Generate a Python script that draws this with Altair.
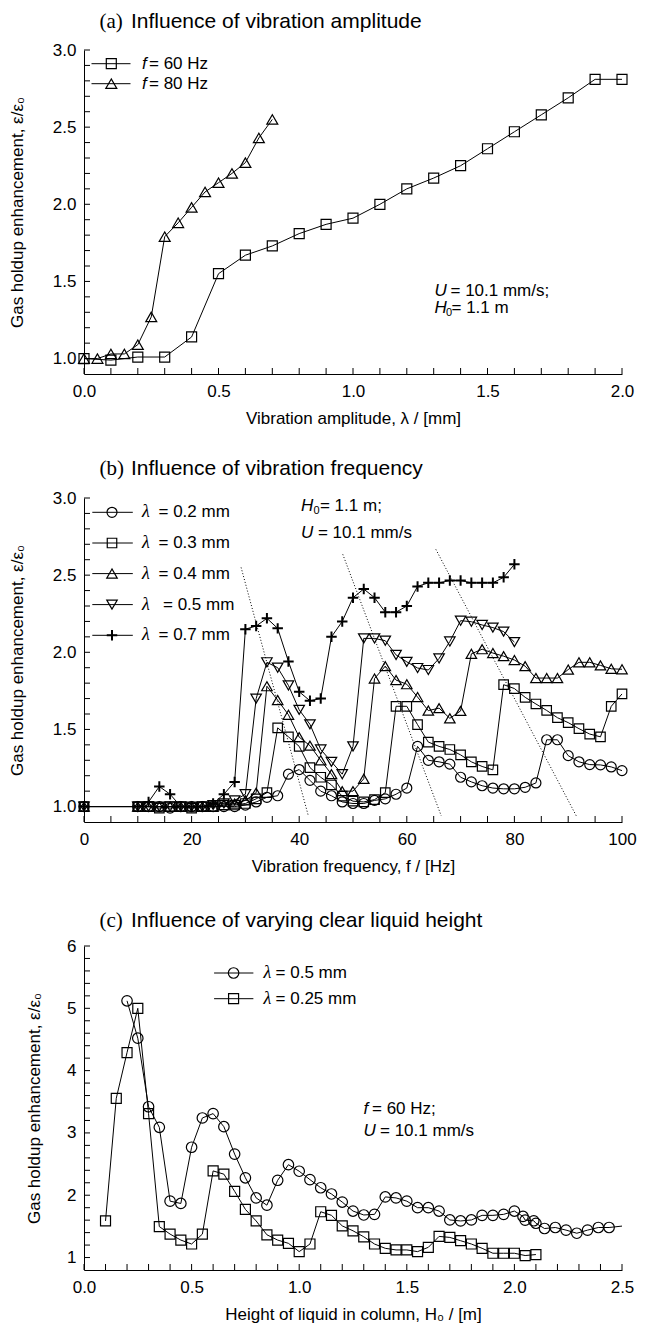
import altair as alt
import pandas as pd

FONT = "Liberation Sans"
SERIF = "Liberation Serif"
W, H = 538, 324
TXT = 17
PLUS = "M-1,0H1M0,-1V1"

# ---------------- panel (a): influence of vibration amplitude ----------------
a_amp_60 = [0.0, 0.1, 0.2, 0.3, 0.4, 0.5, 0.6, 0.7, 0.8, 0.9, 1.0, 1.1, 1.2, 1.3, 1.4,
            1.5, 1.6, 1.7, 1.8, 1.9, 2.0]
a_eps_60 = [1.00, 0.99, 1.01, 1.01, 1.14, 1.55, 1.67, 1.73, 1.81, 1.87, 1.91, 2.00, 2.10,
            2.17, 2.25, 2.36, 2.47, 2.58, 2.69, 2.81, 2.81]
a_amp_80 = [0.0, 0.05, 0.1, 0.15, 0.2, 0.25, 0.3, 0.35, 0.4, 0.45, 0.5, 0.55, 0.6, 0.65, 0.7]
a_eps_80 = [1.00, 1.00, 1.03, 1.03, 1.09, 1.27, 1.79, 1.88, 1.98, 2.08, 2.14, 2.20, 2.27,
            2.43, 2.55]
a_x_labels = [0.0, 0.5, 1.0, 1.5, 2.0]
a_y_labels = [1.0, 1.5, 2.0, 2.5, 3.0]
a_x_ticks = [0.0, 0.1, 0.2, 0.3, 0.4, 0.5, 0.6, 0.7, 0.8, 0.9, 1.0, 1.1, 1.2, 1.3, 1.4, 1.5,
             1.6, 1.7, 1.8, 1.9, 2.0]
a_y_ticks = [1.0, 1.1, 1.2, 1.3, 1.4, 1.5, 1.6, 1.7, 1.8, 1.9, 2.0, 2.1, 2.2, 2.3, 2.4, 2.5,
             2.6, 2.7, 2.8, 2.9, 3.0]

# ---------------- panel (b): influence of vibration frequency ----------------
b_freq_long = [0, 10, 12, 14, 16, 18, 20, 22, 24, 26, 28, 30, 32, 34, 36, 38, 40, 42, 44, 46,
               48, 50, 52, 54, 56, 58, 60, 62, 64, 66, 68, 70, 72, 74, 76, 78, 80, 82, 84, 86,
               88, 90, 92, 94, 96, 98, 100]
b_freq_short = [0, 10, 12, 14, 16, 18, 20, 22, 24, 26, 28, 30, 32, 34, 36, 38, 40, 42, 44, 46,
                48, 50, 52, 54, 56, 58, 60, 62, 64, 66, 68, 70, 72, 74, 76, 78, 80]
b_eps_02 = [1.00, 1.00, 1.00, 1.00, 0.99, 1.00, 1.00, 1.00, 1.00, 1.00, 1.00,
            1.01, 1.03, 1.06, 1.07, 1.21, 1.24, 1.17, 1.10, 1.07, 1.03, 1.02, 1.02, 1.04,
            1.05, 1.08, 1.12, 1.39, 1.30, 1.29, 1.275, 1.19, 1.16, 1.135, 1.12, 1.115,
            1.115, 1.125, 1.153, 1.433, 1.433, 1.33, 1.29, 1.272, 1.27, 1.257, 1.233]
b_eps_03 = [1.00, 1.00, 1.00, 0.99, 1.00, 1.00, 0.99, 1.00, 1.00, 1.01, 1.01,
            1.02, 1.05, 1.09, 1.51, 1.452, 1.39, 1.253, 1.19, 1.14, 1.068, 1.035, 1.03,
            1.045, 1.09, 1.65, 1.65, 1.531, 1.418, 1.39, 1.37, 1.335, 1.29, 1.26, 1.238,
            1.79, 1.765, 1.708, 1.665, 1.623, 1.576, 1.544, 1.505, 1.47, 1.452, 1.65, 1.73]
b_eps_04 = [1.00, 1.00, 1.00, 1.00, 1.00, 1.00, 1.00, 1.00, 1.00, 1.01, 1.02,
            1.04, 1.09, 1.78, 1.69, 1.595, 1.45, 1.395, 1.30, 1.21, 1.10, 1.10, 1.18, 1.83,
            1.91, 1.82, 1.793, 1.71, 1.622, 1.638, 1.572, 1.62, 1.99, 2.02, 1.995, 1.975,
            1.95, 1.91, 1.833, 1.833, 1.833, 1.888, 1.935, 1.935, 1.915, 1.893, 1.89]
b_eps_05 = [1.00, 1.00, 1.00, 1.00, 1.00, 1.00, 1.00, 1.00, 1.01, 1.02, 1.04,
            1.08, 1.70, 1.935, 1.90, 1.785, 1.627, 1.533, 1.37, 1.29, 1.21, 1.39, 2.09,
            2.09, 2.075, 1.983, 1.938, 1.898, 1.885, 1.96, 2.07, 2.205, 2.198, 2.177, 2.16,
            2.134, 2.066]
b_eps_07 = [1.00, 1.00, 1.03, 1.13, 1.08, 1.00, 1.00, 1.00, 1.02, 1.08, 1.16,
            2.15, 2.17, 2.22, 2.155, 1.94, 1.744, 1.686, 1.70, 2.10, 2.20, 2.354, 2.41,
            2.354, 2.26, 2.26, 2.30, 2.427, 2.45, 2.45, 2.465, 2.465, 2.45, 2.45, 2.45,
            2.486, 2.57]
b_guide_freq = [[29.2, 41.7], [48.1, 66.4], [65.4, 91.5]]
b_guide_eps = [[2.55, 0.94], [2.635, 0.94], [2.667, 0.94]]
b_x_labels = [0, 20, 40, 60, 80, 100]
b_y_labels = [1.0, 1.5, 2.0, 2.5, 3.0]
b_x_ticks = [0, 5, 10, 15, 20, 25, 30, 35, 40, 45, 50, 55, 60, 65, 70, 75, 80, 85, 90, 95, 100]
b_y_ticks = a_y_ticks

# ---------------- panel (c): influence of clear liquid height ----------------
c_h_05 = [0.2, 0.25, 0.3, 0.35, 0.4, 0.45, 0.5, 0.55, 0.6, 0.65, 0.7, 0.75, 0.8, 0.85, 0.9,
          0.95, 1.0, 1.05, 1.1, 1.15, 1.2, 1.25, 1.3, 1.35, 1.4, 1.45, 1.5, 1.55, 1.6, 1.65,
          1.7, 1.75, 1.8, 1.85, 1.9, 1.95, 2.0, 2.04, 2.05, 2.09, 2.1, 2.14, 2.19, 2.24, 2.29,
          2.34, 2.39, 2.44, 2.54]
c_eps_05 = [5.12, 4.52, 3.42, 3.09, 1.905, 1.868, 2.77, 3.24, 3.31, 3.10, 2.66, 2.28, 1.957,
            1.84, 2.24, 2.49, 2.385, 2.25, 2.12, 2.02, 1.89, 1.746, 1.683, 1.693, 1.973,
            1.957, 1.905, 1.80, 1.80, 1.746, 1.603, 1.587, 1.603, 1.677, 1.677, 1.693, 1.746,
            1.66, 1.60, 1.59, 1.55, 1.466, 1.482, 1.44, 1.39, 1.44, 1.482, 1.482, 1.52]
c_h_025 = [0.1, 0.15, 0.2, 0.25, 0.3, 0.35, 0.4, 0.45, 0.5, 0.55, 0.6, 0.65, 0.7, 0.75, 0.8,
           0.85, 0.9, 0.95, 1.0, 1.05, 1.1, 1.15, 1.2, 1.25, 1.3, 1.35, 1.4, 1.45, 1.5, 1.55,
           1.6, 1.65, 1.7, 1.75, 1.8, 1.85, 1.9, 1.95, 2.0, 2.05, 2.1]
c_eps_025 = [1.587, 3.556, 4.29, 5.0, 3.31, 1.497, 1.376, 1.28, 1.217, 1.376, 2.39, 2.338,
             2.063, 1.773, 1.587, 1.365, 1.28, 1.228, 1.095, 1.217, 1.735, 1.677, 1.508,
             1.429, 1.333, 1.217, 1.148, 1.122, 1.122, 1.095, 1.164, 1.339, 1.323, 1.27,
             1.217, 1.148, 1.069, 1.069, 1.069, 1.032, 1.048]
c_x_labels = [0.0, 0.5, 1.0, 1.5, 2.0, 2.5]
c_y_labels = [1, 2, 3, 4, 5, 6]
c_x_ticks = [0.0, 0.1, 0.2, 0.3, 0.4, 0.5, 0.6, 0.7, 0.8, 0.9, 1.0, 1.1, 1.2, 1.3, 1.4, 1.5,
             1.6, 1.7, 1.8, 1.9, 2.0, 2.1, 2.2, 2.3, 2.4, 2.5]
c_y_ticks = [1.0, 1.2, 1.4, 1.6, 1.8, 2.0, 2.2, 2.4, 2.6, 2.8, 3.0, 3.2, 3.4, 3.6, 3.8, 4.0,
             4.2, 4.4, 4.6, 4.8, 5.0, 5.2, 5.4, 5.6, 5.8, 6.0]

Y_TITLE = "Gas holdup enhancement, ε/ε₀"
one = pd.DataFrame({"k": [0]})
SX = W / 548.0  # horizontal scale for annotation offsets
SY = H / 327.0  # vertical scale for annotation offsets


def T(text, x, y, size=TXT, font=FONT, style="normal", align="left"):
    return alt.Chart(one).mark_text(align=align, baseline="middle", font=font, fontSize=size,
                                    fontStyle=style, color="black").encode(
        x=alt.value(x), y=alt.value(y), text=alt.value(text))


def P(x, y, shape, size, sw):
    return alt.Chart(one).mark_point(shape=shape, size=size, filled=False, color="black",
                                     opacity=1, strokeWidth=sw).encode(
        x=alt.value(x), y=alt.value(y))


def R(x1, x2, y):
    return alt.Chart(one).mark_rule(color="black", strokeWidth=1).encode(
        x=alt.value(x1), x2=alt.value(x2), y=alt.value(y))


def legend_entry(y, x1, x2, xm, shape, size, sw):
    return [R(x1, x2, y), P(xm, y, shape, size, sw)]


def panel(series, xdom, ydom, xlabels, ylabels, xfmt, yfmt, xtitle, ytpad, xticks, yticks,
          extras, clip=False, guides=None):
    rows = []
    for name, xs, ys, shp, sz, sw in series:
        for i, (xv, yv) in enumerate(zip(xs, ys)):
            rows.append(dict(x=xv, y=yv, s=name, i=i, shp=shp, sz=sz, sw=sw))
    df = pd.DataFrame(rows)
    xaxis = alt.Axis(values=xlabels, format=xfmt, title=xtitle, ticks=False, grid=False,
                     labelPadding=9, titlePadding=11, labelFlush=False, labelOverlap=False)
    yaxis = alt.Axis(values=ylabels, format=yfmt, title=Y_TITLE, ticks=False, grid=False,
                     labelPadding=8, titlePadding=ytpad, labelFlush=False, labelOverlap=False)
    X = alt.X("x:Q", scale=alt.Scale(domain=xdom, nice=False, zero=False), axis=xaxis)
    Y = alt.Y("y:Q", scale=alt.Scale(domain=ydom, nice=False, zero=False), axis=yaxis)
    xt = alt.Chart(pd.DataFrame({"x": xticks})).mark_rule(color="black", strokeWidth=1).encode(
        x=X, y=alt.value(H), y2=alt.value(H - 6))
    yt = alt.Chart(pd.DataFrame({"y": yticks})).mark_rule(color="black", strokeWidth=1).encode(
        y=Y, x=alt.value(0), x2=alt.value(6))
    layers = [xt, yt]
    if guides is not None:
        grows = []
        for g, (gx, gy) in enumerate(zip(*guides)):
            for xv, yv in zip(gx, gy):
                grows.append(dict(x=xv, y=yv, g=g))
        layers.append(alt.Chart(pd.DataFrame(grows)).mark_line(
            color="black", strokeWidth=1, strokeDash=[1, 2]).encode(x=X, y=Y, detail="g:N"))
    line = alt.Chart(df).mark_line(color="black", strokeWidth=1, clip=clip).encode(
        x=X, y=Y, detail="s:N", order="i:Q")
    pts = alt.Chart(df).mark_point(filled=False, color="black", opacity=1, clip=clip).encode(
        x=X, y=Y,
        shape=alt.Shape("shp:N", scale=None),
        size=alt.Size("sz:Q", scale=None),
        strokeWidth=alt.StrokeWidth("sw:Q", scale=None))
    layers += [line, pts] + extras
    return alt.layer(*layers).properties(width=W, height=H)


# ----- panel (a)
a_extras = [T("(a)", 15.5, -27.6, size=21, font=SERIF),
            T("Influence of vibration amplitude", 47, -27.6, size=21)]
a_extras += legend_entry(13.7, 7.5, 46.5, 27.3, "square", 100, 1.2)
a_extras += [T("f", 58, 13.7, style="italic"), T("= 60 Hz", 65, 13.7)]
a_extras += legend_entry(33.7, 7.5, 46.5, 27.3, "triangle-up", 120, 1.2)
a_extras += [T("f", 58, 33.7, style="italic"), T("= 80 Hz", 65, 33.7)]
ax0 = 357 * SX
a_extras += [T("U", ax0, 243 * SY, style="italic"), T("= 10.1 mm/s;", ax0 + 16, 243 * SY),
             T("H", ax0, 260.5 * SY, style="italic"), T("0", ax0 + 11.5, 260.5 * SY + 4.5, size=11),
             T("= 1.1 m", ax0 + 17, 260.5 * SY)]
pa = panel([("60", a_amp_60, a_eps_60, "square", 100, 1.2),
            ("80", a_amp_80, a_eps_80, "triangle-up", 120, 1.2)],
           [0, 2.0], [0.9, 3.0], a_x_labels, a_y_labels, ".1f", ".1f",
           "Vibration amplitude, λ / [mm]", 26, a_x_ticks, a_y_ticks, a_extras)

# ----- panel (b)
b_extras = [T("(b)", 15.5, -28.7, size=21, font=SERIF),
            T("Influence of vibration frequency", 47, -28.7, size=21)]
b_leg = [("circle", 100, 1.2, "= 0.2 mm", 74.5), ("square", 90, 1.2, "= 0.3 mm", 74.5),
         ("triangle-up", 110, 1.2, "= 0.4 mm", 74.5), ("triangle-down", 110, 1.2, "= 0.5 mm", 79),
         (PLUS, 110, 2, "= 0.7 mm", 74.5)]
b_rows = [14.3, 45.0, 75.6, 106.6, 137.3]
for (shp, sz, sw, lab, lx), ry in zip(b_leg, b_rows):
    b_extras += legend_entry(ry, 8.3, 48.8, 28, shp, sz, sw)
    b_extras += [T("λ", 58, ry, font=SERIF, style="italic", size=18), T(lab, lx, ry)]
bx0 = 221 * SX
b_extras += [T("H", bx0, 8.3, style="italic"), T("0", bx0 + 12.5, 13, size=11),
             T("= 1.1 m;", bx0 + 19, 8.3),
             T("U", bx0, 35, style="italic"), T("= 10.1 mm/s", bx0 + 17, 35)]
pb = panel([("0.2", b_freq_long, b_eps_02, "circle", 100, 1.2),
            ("0.3", b_freq_long, b_eps_03, "square", 90, 1.2),
            ("0.4", b_freq_long, b_eps_04, "triangle-up", 110, 1.2),
            ("0.5", b_freq_short, b_eps_05, "triangle-down", 110, 1.2),
            ("0.7", b_freq_short, b_eps_07, PLUS, 110, 2)],
           [0, 100], [0.9, 3.0], b_x_labels, b_y_labels, "d", ".1f",
           "Vibration frequency, f / [Hz]", 26, b_x_ticks, b_y_ticks, b_extras,
           guides=(b_guide_freq, b_guide_eps))

# ----- panel (c)
c_extras = [T("(c)", 15.5, -25.3, size=21, font=SERIF),
            T("Influence of varying clear liquid height", 47, -25.3, size=21)]
cl0 = 132.5 * SX
c_extras += legend_entry(27, cl0, cl0 + 39.3, cl0 + 19.5, "circle", 110, 1.2)
c_extras += [T("λ", cl0 + 49.5, 27, font=SERIF, style="italic", size=18),
             T("= 0.5 mm", cl0 + 61.5, 27)]
c_extras += legend_entry(52.7, cl0, cl0 + 39.3, cl0 + 19.5, "square", 100, 1.2)
c_extras += [T("λ", cl0 + 49.5, 52.7, font=SERIF, style="italic", size=18),
             T("= 0.25 mm", cl0 + 61.5, 52.7)]
cx0 = 284.7 * SX
c_extras += [T("f", cx0, 165 * SY, style="italic"), T("= 60 Hz;", cx0 + 8.5, 165 * SY),
             T("U", cx0, 186.5 * SY, style="italic"), T("= 10.1 mm/s", cx0 + 16.5, 186.5 * SY)]
pc = panel([("0.5", c_h_05, c_eps_05, "circle", 110, 1.2),
            ("0.25", c_h_025, c_eps_025, "square", 100, 1.2)],
           [0, 2.5], [0.8, 6.0], c_x_labels, c_y_labels, ".1f", "d",
           "Height of liquid in column, H₀ / [m]", 23, c_x_ticks, c_y_ticks, c_extras,
           clip=True)

chart = alt.vconcat(pa, pb, pc, spacing=124, bounds="flush").configure_view(
    stroke=None
).configure_axis(
    labelFont=FONT, titleFont=FONT, labelFontSize=17, titleFontSize=17,
    titleFontWeight="normal", labelColor="black", titleColor="black",
    domainColor="black", domainWidth=1
).properties(padding={"left": 0, "top": 3, "right": 0, "bottom": 3})

chart.save("out.html", embed_options={"renderer": "svg", "actions": False})
